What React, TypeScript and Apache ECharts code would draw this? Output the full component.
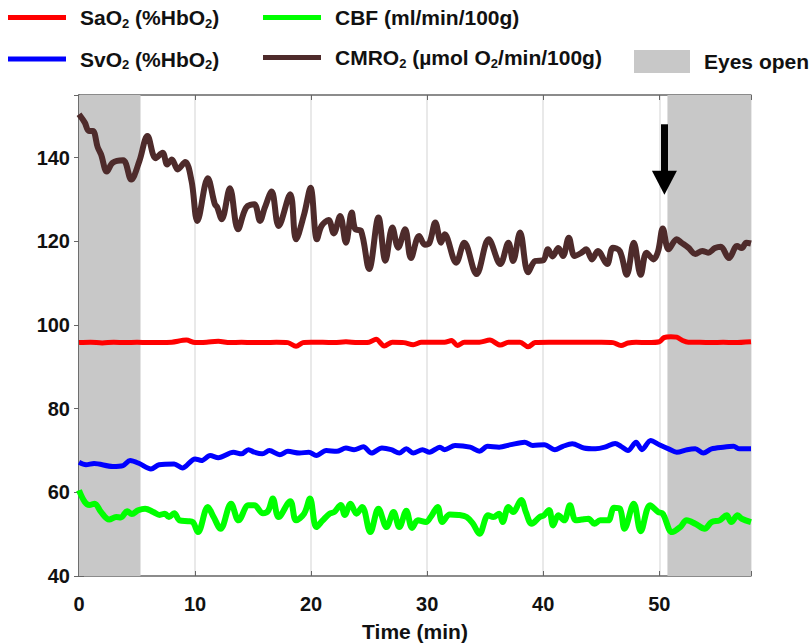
import React, { useEffect, useRef } from "react";
import * as echarts from "echarts";

const xTicks = [0, 10, 20, 30, 40, 50];
const yTicks = [40, 60, 80, 100, 120, 140];

const eyesOpenPeriods: [number, number][] = [
  [0, 5.3],
  [50.7, 57.9],
];

const arrowFromTo: [number, number][] = [
  [50.44, 148],
  [50.44, 134],
];

const sao2: [number, number][] = [
  [0, 95.8], [1, 95.9], [2, 95.7], [3, 95.9], [4, 95.8], [5, 95.9], [6, 95.8], [7, 95.8], [8, 95.9],
  [9.25, 96.4], [10, 95.8], [11, 95.9], [12, 96.1], [13, 95.8], [14, 95.9], [15, 95.8], [16, 95.8],
  [17, 95.9], [18, 95.8], [18.7, 94.9], [19.3, 95.8], [20, 95.9], [21, 95.9], [22, 95.8], [23, 96.0],
  [24, 95.8], [25, 95.9], [25.6, 96.6], [26.3, 95.0], [27, 95.9], [28, 95.8], [28.8, 95.3], [29.5, 95.9],
  [30.5, 95.9], [31.5, 95.9], [32.1, 96.3], [32.6, 95.1], [33.2, 95.9], [34.5, 95.9], [35.4, 96.4],
  [36.3, 95.2], [37, 95.9], [38, 95.9], [38.7, 94.8], [39.3, 95.8], [40.5, 95.9], [42, 95.9], [43.5, 95.9],
  [45, 95.9], [46, 95.8], [46.7, 95.1], [47.3, 95.7], [48, 95.9], [49, 95.8], [50, 96.0], [50.4, 97.0],
  [51, 97.2], [51.5, 97.1], [52, 96.3], [52.5, 95.9], [53.5, 95.9], [54.5, 95.8], [55.5, 95.9],
  [56.5, 95.8], [57.9, 96.0],
];

const svo2: [number, number][] = [
  [0, 67.2], [0.6, 66.6], [1.3, 66.9], [2.9, 66.2], [3.8, 66.4], [4.4, 67.6], [5.2, 66.9], [6.2, 65.6],
  [6.9, 66.6], [8.2, 66.8], [8.9, 65.8], [10.0, 68], [10.55, 67.6], [11.3, 68.8], [12.0, 68.3],
  [13.3, 69.6], [14.0, 69.2], [14.6, 70.2], [15.1, 69.6], [15.8, 69.2], [16.4, 70], [17.3, 69],
  [18.0, 69.8], [19.0, 69.4], [19.8, 69.6], [20.45, 68.8], [21.3, 70], [22.2, 69.8], [23.0, 70.6],
  [23.7, 70.2], [24.5, 70.9], [25.2, 69.4], [26.1, 70.6], [26.9, 70.2], [27.6, 69.4], [28.2, 70.4],
  [28.8, 69.4], [29.6, 70.2], [30.2, 69.6], [31.1, 70.8], [31.5, 70.2], [32.4, 71.2], [33.7, 70.8],
  [34.5, 69.8], [35.2, 71], [36.2, 70.8], [37.2, 71.4], [38.4, 72], [39.1, 71.2], [40.1, 71.4],
  [41.0, 70.2], [41.7, 71], [42.5, 71.6], [43.5, 70.6], [44.5, 70.4], [45.3, 70.8], [46.2, 71.7],
  [46.7, 71], [47.3, 70], [48.0, 72], [48.5, 70.2], [49.25, 72.4], [50.0, 71.4], [50.8, 70.4],
  [51.5, 69.6], [52.4, 70.2], [53.1, 70.4], [53.8, 69.4], [54.5, 70.4], [55.5, 70.8], [56.4, 71],
  [56.9, 70.4], [57.9, 70.4],
];

const cbf: [number, number][] = [
  [0, 60.5], [0.5, 57.7], [0.9, 57], [1.35, 57.3], [1.9, 55.3], [2.6, 53.5], [3.2, 54.1], [3.6, 54],
  [4.16, 55.5], [4.55, 54.8], [5.1, 55.7], [5.7, 56.1], [6.4, 55.3], [6.95, 54.6], [7.4, 54.9],
  [7.75, 54.1], [8.2, 55], [8.67, 53.3], [9.4, 53.1], [9.8, 52.9], [10.25, 50.5], [11.1, 56.5],
  [11.6, 54.1], [12.2, 51.3], [13.1, 57.3], [13.75, 53.3], [14.6, 56.9], [15.1, 56.9], [15.85, 55],
  [16.3, 55.6], [16.7, 58.5], [17.2, 54.1], [18.2, 57.9], [18.7, 53.3], [19.4, 54.9], [19.9, 58.5],
  [20.45, 51.7], [21.0, 53.3], [21.6, 54.9], [22.0, 55.3], [22.55, 57], [22.9, 54.6], [23.4, 57.3],
  [23.9, 54.9], [24.4, 56.5], [25.1, 50.5], [25.8, 56.1], [26.5, 51.7], [27.1, 55.3], [27.6, 51.7],
  [28.2, 55.6], [28.7, 51.5], [29.2, 53.3], [29.9, 52.9], [30.3, 54.1], [30.9, 56.5], [31.3, 52.9],
  [31.95, 54.7], [32.7, 54.6], [33.4, 54.1], [33.95, 52.5], [34.5, 50.1], [35.25, 54.5], [35.7, 54.1],
  [36.2, 54.9], [36.5, 52.9], [37.0, 56.5], [37.4, 55.3], [38.1, 58.2], [38.5, 55.3], [39.0, 52.5],
  [39.7, 54.1], [40.05, 54.5], [40.5, 55.8], [40.85, 52.1], [41.3, 54.5], [41.8, 53.3], [42.3, 56.9],
  [42.8, 53.3], [43.3, 53.5], [43.9, 53.7], [44.4, 52.5], [44.9, 53.3], [45.6, 53.3], [46.1, 56.3],
  [46.6, 56.1], [47.0, 51.3], [47.8, 57.3], [48.4, 50.7], [49.2, 56.9], [49.9, 55.3], [50.3, 54.9],
  [51.1, 50.5], [51.8, 51.7], [52.35, 53.3], [53.1, 52.5], [53.9, 51.3], [54.5, 52.9], [55.2, 53.3],
  [55.8, 54.5], [56.2, 52.9], [56.75, 54.5], [57.1, 53.7], [57.9, 52.9],
];

const cmro2: [number, number][] = [
  [0, 150.4], [0.5, 148.4], [0.85, 146.4], [1.2, 146.4], [1.6, 142.6], [1.9, 140.8], [2.4, 136.7],
  [2.9, 138.8], [3.8, 139.4], [4.5, 134.8], [5.2, 139.2], [5.9, 145.2], [6.6, 139.9], [7.2, 141.2],
  [7.6, 138.4], [8.0, 139.6], [8.5, 137.2], [9.15, 139], [9.7, 134.4], [10.2, 124.9], [11.1, 135.1],
  [11.7, 128.9], [11.9, 128.2], [12.3, 125.3], [13.0, 132.7], [13.7, 122.9], [14.4, 128.1],
  [15.1, 128.9], [15.6, 124.9], [16.0, 128], [16.6, 131.9], [17.2, 123.7], [18.2, 131.3], [18.7, 120.5],
  [19.4, 126.5], [19.95, 132.8], [20.5, 120.5], [20.9, 123.7], [21.5, 125.1], [21.95, 121.9],
  [22.5, 126.1], [23.0, 119.7], [23.5, 126.9], [23.8, 122.9], [24.3, 122.5], [25.0, 113.4],
  [25.8, 125.7], [26.4, 115.4], [27.0, 123.3], [27.5, 118.5], [28.1, 122.9], [28.6, 116], [29.3, 121.3],
  [29.8, 119.2], [30.2, 119.7], [30.7, 124.5], [31.2, 119.7], [31.5, 121.7], [32.5, 114.9],
  [33.2, 119.7], [34.25, 112.2], [35.3, 120.5], [36.3, 114.6], [37.0, 119.7], [37.4, 115.3],
  [38.0, 122.1], [38.7, 112.6], [39.3, 115.3], [40.0, 115.5], [40.4, 118.1], [40.8, 116.4],
  [41.3, 118.4], [41.7, 116.5], [42.2, 120.9], [42.7, 116.5], [43.3, 117.3], [43.7, 118.1],
  [44.2, 115.7], [44.7, 117.7], [45.5, 114.6], [46.0, 118.5], [46.6, 117.7], [47.2, 112], [47.8, 119.7],
  [48.4, 112], [48.9, 117.3], [49.5, 115.7], [49.9, 117.7], [50.3, 123.1], [50.8, 118.1], [51.5, 120.5],
  [51.9, 119.7], [52.5, 118.5], [53.1, 117], [53.7, 117.7], [54.2, 117.3], [54.8, 118.4], [55.3, 118.7],
  [56.0, 116], [56.7, 118.9], [57.1, 118.4], [57.5, 119.7], [57.9, 119.5],
];

const FONT = "'Liberation Sans', Arial, sans-serif";

const legendRich: Record<string, string> = {
  "SaO2 (%HbO2)": "{a|SaO}{s|2}{a| (%HbO}{s|2}{a|)}",
  "SvO2 (%HbO2)": "{a|SvO}{s|2}{a| (%HbO}{s|2}{a|)}",
  "CBF (ml/min/100g)": "{a|CBF (ml/min/100g)}",
  "CMRO2 (µmol O2/min/100g)": "{a|CMRO}{s|2}{a| (µmol O}{s|2}{a|/min/100g)}",
  "Eyes open": "{a|Eyes open}",
};

const rich = {
  a: { fontSize: 21, fontWeight: "bold", color: "#111", fontFamily: FONT, lineHeight: 24 },
  s: { fontSize: 13, fontWeight: "bold", color: "#111", fontFamily: FONT, lineHeight: 12, verticalAlign: "bottom" },
};

function legendBase(extra: any) {
  return {
    orient: "vertical",
    icon: "rect",
    itemWidth: 58,
    itemHeight: 5,
    itemGap: 19,
    padding: 0,
    selectedMode: false,
    formatter: (n: string) => legendRich[n] || n,
    textStyle: { rich, padding: [0, 0, 0, 9] },
    ...extra,
  };
}

export default function App() {
  const ref = useRef<HTMLDivElement>(null);
  useEffect(() => {
    document.body.style.margin = "0";
    const chart = echarts.init(ref.current!, undefined, { renderer: "svg" });
    const axisLabel = { fontSize: 20, fontWeight: "bold", color: "#111", fontFamily: FONT };
    const lineCol = "#666";
    const xCommon = {
      type: "value",
      min: 0,
      max: 57.9,
      interval: 10,
      axisLine: { show: true, lineStyle: { color: lineCol, width: 1.5 } },
      axisTick: { show: true, inside: true, length: 5, lineStyle: { color: lineCol } },
    };
    const yCommon = {
      type: "value",
      min: 40,
      max: 155,
      interval: 20,
      axisLine: { show: true, lineStyle: { color: lineCol, width: 1.5 } },
      axisTick: { show: true, inside: true, length: 5, lineStyle: { color: lineCol } },
      splitLine: { show: false },
    };
    chart.setOption({
      animation: false,
      grid: { left: 79, right: 60, top: 95, bottom: 67, outerBoundsMode: "none", containLabel: false },
      legend: [
        legendBase({ left: 8, top: 7, data: ["SaO2 (%HbO2)", "SvO2 (%HbO2)"] }),
        legendBase({ left: 263, top: 7, data: ["CBF (ml/min/100g)", "CMRO2 (µmol O2/min/100g)"] }),
        legendBase({ left: 634, top: 50, itemWidth: 56, itemHeight: 23, data: ["Eyes open"] }),
      ],
      xAxis: [
        {
          ...xCommon,
          position: "bottom",
          name: "Time (min)",
          nameLocation: "middle",
          nameGap: 45,
          nameTextStyle: { fontSize: 21, fontWeight: "bold", color: "#111", fontFamily: FONT },
          axisLabel: {
            ...axisLabel,
            margin: 18,
            formatter: (v: number) => (xTicks.includes(v) ? String(v) : ""),
          },
          splitLine: { show: true, lineStyle: { color: "#e2e2e2", width: 1.5 } },
        },
        {
          ...xCommon,
          position: "top",
          axisLabel: { show: false },
          splitLine: { show: false },
        },
      ],
      yAxis: [
        {
          ...yCommon,
          position: "left",
          axisLabel: {
            ...axisLabel,
            margin: 9,
            formatter: (v: number) => (yTicks.includes(v) ? String(v) : ""),
          },
        },
        {
          ...yCommon,
          position: "right",
          axisLabel: { show: false },
        },
      ],
      series: [
        {
          name: "Eyes open",
          type: "line",
          data: [],
          color: "#c8c8c8",
          itemStyle: { color: "#c8c8c8" },
          silent: true,
          markArea: {
            silent: true,
            itemStyle: { color: "#c8c8c8" },
            data: eyesOpenPeriods.map(([a, b]) => [{ xAxis: a }, { xAxis: b }]),
          },
        },
        {
          name: "SaO2 (%HbO2)",
          type: "line",
          data: sao2,
          color: "#ff0000",
          showSymbol: false,
          smooth: 0.3,
          lineStyle: { width: 5, color: "#ff0000" },
        },
        {
          name: "SvO2 (%HbO2)",
          type: "line",
          data: svo2,
          color: "#0000ff",
          showSymbol: false,
          smooth: 0.3,
          lineStyle: { width: 5, color: "#0000ff" },
        },
        {
          name: "CBF (ml/min/100g)",
          type: "line",
          data: cbf,
          color: "#00ff00",
          showSymbol: false,
          smooth: 0.35,
          lineStyle: { width: 6, color: "#00ff00" },
        },
        {
          name: "CMRO2 (µmol O2/min/100g)",
          type: "line",
          data: cmro2,
          color: "#4e2b2b",
          showSymbol: false,
          smooth: 0.35,
          lineStyle: { width: 6, color: "#4e2b2b" },
          markLine: {
            silent: true,
            symbol: ["none", "triangle"],
            symbolSize: [25, 24],
            label: { show: false },
            lineStyle: { color: "#000", width: 7, type: "solid" },
            data: [[{ coord: arrowFromTo[0] }, { coord: arrowFromTo[1] }]],
          },
        },
      ],
    });
    return () => chart.dispose();
  }, []);
  return <div ref={ref} style={{ width: 811, height: 643 }} />;
}
